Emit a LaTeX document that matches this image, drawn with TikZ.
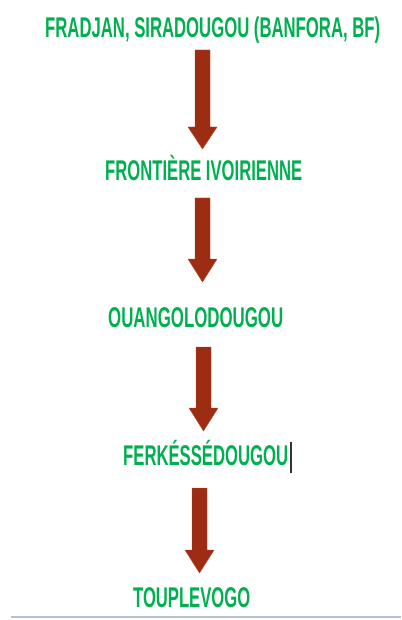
\documentclass[tikz,border=0pt]{standalone}
\usepackage{fontspec}
\usepackage{graphicx}
\setmainfont{Liberation Sans}
\definecolor{txtgreen}{HTML}{00B050}
\definecolor{arrowred}{HTML}{9C2C12}
\definecolor{arrowedge}{HTML}{B04A30}
\definecolor{rulegray}{HTML}{B8C0CC}
\newcommand\fitwidth[2]{\resizebox{#1}{\height}{#2}}
\begin{document}
\begin{tikzpicture}[x=1pt,y=-1pt,
  label/.style={anchor=base west,inner sep=0pt,text=txtgreen,font=\fontsize{28.5}{31}\selectfont\bfseries},
  blockarrow/.style={fill=arrowred,draw=arrowedge,line width=0.4pt}]
\useasboundingbox[fill=white] (0,0) rectangle (401,620);
\node[label] (t1) at (45,38) {\fitwidth{335pt}{FRADJAN, SIRADOUGOU (BANFORA, BF)}};
\node[label] (t2) at (105,181) {\fitwidth{197pt}{FRONTIÈRE IVOIRIENNE}};
\node[label] (t3) at (108,327) {\fitwidth{175pt}{OUANGOLODOUGOU}};
\node[label] (t4) at (123,465) {\fitwidth{165pt}{FERKÉSSÉDOUGOU}};
\node[label] (t5) at (133,607) {\fitwidth{117pt}{TOUPLEVOGO}};
% block arrows
\draw[blockarrow] (195,50) -- (210,50) -- (210,127) -- (217,127) -- (202.5,149) -- (188,127) -- (195,127) -- cycle;
\draw[blockarrow] (195,198) -- (210,198) -- (210,259) -- (217,259) -- (202.5,282) -- (188,259) -- (195,259) -- cycle;
\draw[blockarrow] (196,347) -- (211,347) -- (211,408) -- (218,408) -- (203.5,431) -- (189,408) -- (196,408) -- cycle;
\draw[blockarrow] (192,488) -- (207,488) -- (207,550) -- (214,550) -- (199.5,573) -- (185,550) -- (192,550) -- cycle;
% text cursor
\coordinate (c1) at (291,442);
\coordinate (c2) at (291,473);
\draw[line width=1.2pt,black!80] (c1) -- (c2);
% bottom rule
\coordinate (r1) at (11,617);
\coordinate (r2) at (401,617);
\draw[rulegray,line width=2pt] (r1) -- (r2);
\end{tikzpicture}
\end{document}
